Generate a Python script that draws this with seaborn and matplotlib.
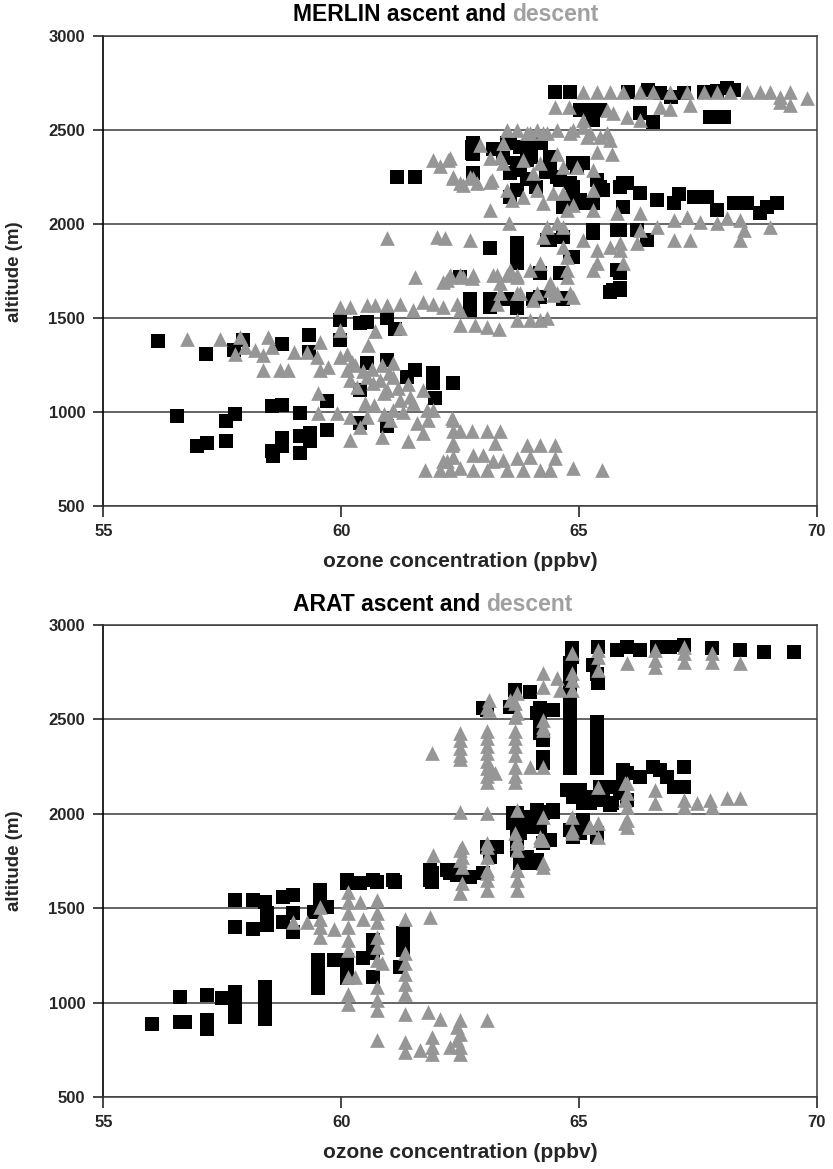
import pandas as pd
import seaborn as sns
import matplotlib.pyplot as plt

# %% data: (ozone ppbv, altitude m)
merlin_ascent = [
    (56.16, 1380), (57.16, 1310), (57.75, 1330), (57.94, 1383), (58.75, 1362), (59.33, 1411), (59.33, 1320),
    (59.98, 1490), (59.98, 1384), (60.40, 1472), (60.54, 1482), (60.96, 1500), (61.13, 1445), (60.54, 1261),
    (60.96, 1278), (61.38, 1189), (61.55, 1224), (61.94, 1206), (61.94, 1154), (61.97, 1074), (62.36, 1154),
    (59.70, 1058), (59.70, 907), (59.14, 996), (58.75, 1040), (58.54, 1031), (57.77, 989), (57.59, 953),
    (56.54, 980), (56.96, 820), (57.17, 838), (57.59, 846), (58.54, 793), (58.57, 767), (58.75, 820),
    (58.75, 864), (59.14, 873), (59.14, 785), (59.35, 890), (59.35, 846), (60.40, 1120), (60.40, 943),
    (60.96, 925),
    (61.17, 2252), (61.55, 2252), (62.75, 2412), (62.75, 2380), (62.78, 2270), (63.55, 2430), (63.69, 2323),
    (63.97, 2403), (64.20, 2430), (64.39, 2323), (64.60, 2234), (64.95, 2305), (65.09, 2323), (64.88, 2199),
    (65.02, 2128), (65.37, 2234), (65.51, 2181), (65.93, 2217), (65.93, 2093), (63.55, 2146), (63.69, 2181),
    (64.67, 2093), (65.30, 1969), (65.79, 1969), (63.13, 1872), (63.69, 1899), (63.69, 1837), (63.69, 1793),
    (64.32, 1916), (64.67, 1934), (64.81, 1827), (64.18, 1739), (64.60, 1739), (65.79, 1757), (65.86, 1650),
    (65.65, 1641), (62.50, 1721), (62.71, 1600), (63.13, 1600), (63.48, 1600), (64.04, 1600), (64.67, 1600),
    (64.50, 2704), (64.82, 2704), (65.03, 2606), (65.16, 2606), (66.03, 2704), (66.45, 2713), (66.94, 2677),
    (67.62, 2704), (68.11, 2722), (68.25, 2713), (66.56, 2545), (67.76, 2571), (68.04, 2571), (65.44, 2606),
    (65.30, 2553), (66.28, 2589), (66.70, 2700), (67.20, 2700), (67.90, 2710),
    (62.78, 2430), (62.78, 2376), (63.48, 2430), (63.76, 2412), (63.97, 2412), (64.18, 2430), (64.39, 2358),
    (63.90, 2341), (63.76, 2288), (63.55, 2270), (64.53, 2252), (64.82, 2217), (64.88, 2323), (65.44, 2199),
    (66.01, 2217), (66.28, 2164), (66.64, 2128), (66.99, 2111), (67.41, 2146), (67.69, 2146), (67.90, 2075),
    (68.25, 2111), (68.53, 2111), (68.95, 2093), (69.16, 2111), (64.74, 2128), (65.03, 2111), (65.30, 2111),
    (65.86, 2199), (65.86, 1969), (66.22, 1969), (65.30, 1952), (66.43, 1916), (64.39, 1916), (64.88, 1827),
    (65.72, 1650), (65.86, 1659), (65.86, 1739), (62.71, 1544), (63.13, 1562), (64.18, 1615), (63.69, 1553),
    (64.67, 1607), (63.20, 2400), (63.40, 2350), (64.00, 2360), (64.30, 2280), (63.90, 2240), (64.10, 2200),
    (68.80, 2060), (67.10, 2160),
]

merlin_descent = [
    (56.75, 1392), (57.45, 1392), (57.87, 1401), (57.77, 1312), (57.98, 1348), (58.19, 1330), (58.36, 1303),
    (58.47, 1401), (58.54, 1348), (58.36, 1224), (58.72, 1224), (58.89, 1224), (59.00, 1321), (59.28, 1321),
    (59.56, 1374), (59.49, 1294), (59.56, 1224), (59.73, 1242), (59.98, 1436), (59.98, 1560), (60.19, 1560),
    (60.54, 1569), (60.71, 1569), (60.96, 1569), (61.24, 1578), (61.52, 1543), (61.73, 1587), (61.94, 1578),
    (62.15, 1560), (62.43, 1578), (60.71, 1430), (61.24, 1447), (60.57, 1358), (59.98, 1294), (60.12, 1312),
    (60.22, 1268), (60.12, 1224), (60.19, 1170), (60.33, 1135), (60.54, 1189), (60.68, 1154), (60.82, 1170),
    (61.10, 1189), (60.96, 1118), (61.24, 1065), (61.52, 1047), (61.73, 1118), (61.80, 1012), (61.83, 959),
    (59.52, 1100), (59.52, 994), (59.91, 994), (60.19, 976), (60.19, 853), (60.40, 923), (60.54, 976),
    (60.85, 870), (61.03, 959), (61.41, 846), (61.59, 941), (61.73, 888), (61.76, 694), (62.08, 694),
    (62.22, 738), (62.36, 764), (62.36, 835), (62.36, 959), (61.10, 1261), (61.45, 1083), (61.94, 1012),
    (60.30, 1250), (60.45, 1220), (60.65, 1230), (60.85, 1250), (61.00, 1210), (60.90, 1100), (61.20, 1130),
    (61.40, 1150), (60.50, 1050), (60.70, 1040), (61.10, 1010), (61.30, 1000), (60.90, 990),
    (62.33, 970), (62.36, 899), (62.50, 899), (62.75, 899), (63.06, 899), (63.34, 899), (62.33, 828),
    (63.24, 837), (62.15, 738), (62.50, 703), (62.78, 774), (62.99, 774), (63.20, 738), (63.41, 747),
    (63.69, 756), (63.90, 828), (64.18, 828), (64.50, 828), (64.50, 756), (64.88, 703), (65.48, 694),
    (62.29, 694), (62.78, 694), (63.06, 694), (63.48, 694), (63.83, 694), (64.18, 694), (64.39, 694),
    (63.97, 764),
    (62.50, 1463), (62.82, 1463), (63.06, 1454), (63.31, 1445), (63.69, 1490), (63.97, 1490), (64.18, 1490),
    (64.32, 1500), (62.50, 1543), (63.27, 1578), (63.76, 1632), (64.04, 1596), (64.39, 1650), (64.46, 1623),
    (64.88, 1614), (64.74, 1721), (63.20, 1730), (62.50, 1730), (62.22, 1704), (65.30, 1757),
    (61.94, 2341), (62.25, 2341), (62.92, 2421), (62.36, 2244), (62.57, 2208), (62.78, 2244), (63.17, 2235),
    (63.13, 2075), (63.52, 2004), (60.96, 1925), (62.01, 1934), (62.19, 1925), (62.71, 1916), (61.55, 1721),
    (62.15, 1695), (62.29, 1721), (62.57, 1721), (62.75, 1712), (63.34, 1686), (63.48, 2181), (63.59, 2128),
    (63.83, 2146), (64.11, 2181), (64.25, 2111), (64.46, 2164), (64.67, 2164), (64.74, 2075), (64.88, 2102),
    (65.30, 2075), (65.30, 2181), (65.79, 2057), (63.41, 2323), (63.83, 2341), (64.18, 2323), (64.04, 2270),
    (64.53, 2376), (64.67, 2305), (64.95, 2305), (65.30, 2288), (65.37, 2385), (65.69, 2376), (63.41, 2430),
    (63.97, 2484), (64.25, 2484), (64.81, 2484), (65.23, 2484), (65.58, 2484), (64.32, 1987), (64.53, 2004),
    (64.67, 1987), (64.25, 1934), (64.67, 1880), (64.74, 1827), (64.74, 1757), (65.09, 1916), (65.37, 1863),
    (65.65, 1880), (65.86, 1863), (65.93, 1793), (65.37, 1793), (63.55, 1757), (63.69, 1721), (63.97, 1757),
    (64.18, 1793), (64.39, 1686), (64.11, 1632), (64.53, 1632), (64.81, 1632), (63.69, 1632), (63.34, 1632),
    (65.09, 2704), (65.37, 2704), (65.65, 2704), (65.93, 2704), (66.28, 2704), (66.56, 2704), (66.92, 2704),
    (67.27, 2704), (67.62, 2704), (67.90, 2704), (68.18, 2704), (68.53, 2704), (68.81, 2704), (69.02, 2704),
    (69.23, 2677), (69.44, 2704), (69.79, 2669), (69.44, 2633), (69.23, 2651), (64.50, 2624), (64.78, 2624),
    (66.70, 2624), (66.92, 2615), (67.33, 2633), (65.72, 2589), (66.01, 2571), (66.28, 2553), (65.58, 2606),
    (65.09, 2553), (63.48, 2500), (63.69, 2500), (63.90, 2483), (64.11, 2500), (64.32, 2483), (64.53, 2500),
    (64.88, 2500), (65.09, 2518), (65.16, 2465), (65.44, 2465), (65.65, 2447), (63.13, 2350), (63.34, 2358),
    (62.36, 2252), (62.50, 2217), (62.71, 2252), (62.85, 2217), (63.13, 2226), (62.08, 2308), (62.29, 2350),
    (66.28, 2057), (66.64, 1987), (66.99, 2022), (67.27, 2040), (67.55, 2013), (67.90, 2004), (68.11, 2031),
    (68.39, 2022), (68.46, 1969), (69.02, 1987), (66.99, 1916), (67.33, 1916), (68.39, 1916), (66.28, 1969),
    (65.86, 1899), (66.22, 1899), (62.29, 1730), (62.78, 1730), (63.27, 1730), (63.48, 1730), (63.69, 1730),
]

arat_ascent = [
    (64.85, 2877), (64.85, 2830), (65.41, 2885), (65.30, 2788), (65.41, 2691), (65.79, 2867), (66.01, 2885),
    (66.28, 2867), (66.64, 2885), (66.92, 2885), (67.20, 2894), (67.79, 2877), (68.39, 2867), (68.88, 2859),
    (69.51, 2859),
    (64.81, 2800), (64.81, 2750), (64.81, 2700), (64.81, 2650), (64.81, 2585), (64.81, 2514), (64.81, 2470),
    (64.81, 2426), (64.81, 2355), (64.81, 2285), (64.81, 2240), (65.37, 2740), (65.37, 2488), (65.37, 2461),
    (65.37, 2420), (65.37, 2391), (65.37, 2338), (65.37, 2276), (65.37, 2240),
    (63.66, 2656), (63.97, 2647), (64.18, 2558), (64.43, 2549), (64.18, 2497), (64.18, 2426), (64.25, 2390),
    (64.25, 2302), (64.25, 2267), (62.99, 2558), (63.06, 2550), (63.55, 2567), (64.11, 2532), (64.32, 2550),
    (64.46, 2550),
    (64.74, 2126), (64.88, 2090), (65.02, 2126), (65.23, 2055), (65.44, 2143), (65.65, 2143), (65.65, 2046),
    (66.01, 2214), (66.28, 2196), (66.56, 2249), (66.70, 2231), (66.85, 2196), (66.99, 2143), (67.20, 2249),
    (67.20, 2143), (65.86, 2108), (66.01, 2073), (65.93, 2231), (65.93, 2180), (65.09, 2055), (65.30, 2090),
    (65.51, 2073), (65.69, 2055),
    (63.69, 2002), (63.90, 1984), (64.18, 2011), (64.46, 2011), (63.76, 1931), (64.18, 1931), (64.39, 1860),
    (65.02, 1896), (65.37, 1896), (63.69, 1878), (63.97, 1966), (64.81, 1913), (64.88, 1878), (65.37, 1878),
    (65.09, 1966), (63.62, 2002), (63.62, 1949), (63.83, 1966), (63.97, 1931), (64.11, 2020), (64.25, 2002),
    (64.46, 2020), (63.76, 1896), (63.69, 1808), (63.90, 1772), (64.11, 1755), (64.25, 1843), (64.39, 1860),
    (63.06, 1825), (63.27, 1825), (63.13, 1772), (61.87, 1701), (62.22, 1701), (62.43, 1684), (62.71, 1666),
    (61.87, 1649), (63.83, 1737), (64.11, 1737), (60.12, 1649), (60.68, 1649), (61.10, 1649), (62.29, 1684),
    (62.99, 1684), (63.76, 1737), (64.04, 1737),
    (56.02, 889), (56.61, 1030), (56.61, 898), (56.72, 898), (57.17, 1039), (57.17, 907), (57.17, 862),
    (57.49, 1022), (57.77, 1057), (57.77, 1013), (57.77, 969), (57.77, 924), (58.40, 1083), (58.40, 1048),
    (58.40, 1004), (58.40, 960), (58.40, 915), (57.77, 1543), (57.77, 1401), (58.15, 1543), (58.15, 1392),
    (58.40, 1534), (58.44, 1472), (58.44, 1410), (58.78, 1560), (58.99, 1569), (58.78, 1428), (58.99, 1472),
    (58.99, 1375), (59.56, 1596), (59.56, 1543), (59.70, 1507), (59.42, 1481), (60.12, 1631), (60.40, 1631),
    (60.75, 1640), (61.13, 1640), (61.90, 1684), (61.90, 1640), (62.29, 1701), (62.43, 1675), (59.52, 1225),
    (59.52, 1172), (59.52, 1119), (59.52, 1075), (59.84, 1225), (60.12, 1225), (60.12, 1172), (60.12, 1128),
    (60.47, 1234), (60.68, 1331), (60.68, 1260), (60.68, 1137), (61.31, 1366), (61.31, 1313), (61.31, 1278),
    (61.24, 1190),
]

arat_descent = [
    (64.85, 2850), (64.85, 2744), (64.85, 2709), (65.41, 2867), (65.41, 2832), (65.41, 2762), (66.01, 2797),
    (66.60, 2867), (66.60, 2814), (66.60, 2779), (67.20, 2885), (67.20, 2850), (67.20, 2806), (67.79, 2850),
    (67.79, 2806), (68.39, 2797), (64.25, 2744), (64.25, 2673), (64.53, 2717), (64.60, 2656), (64.85, 2656),
    (63.10, 2603), (63.10, 2550), (63.55, 2603), (63.69, 2638), (63.69, 2532), (64.25, 2497), (64.25, 2461),
    (62.50, 2430), (62.50, 2390), (62.50, 2350), (62.50, 2310), (62.50, 2290),
    (63.06, 2440), (63.06, 2400), (63.06, 2360), (63.06, 2320), (63.06, 2280), (63.06, 2240), (63.06, 2200),
    (63.06, 2170), (63.17, 2220), (63.66, 2440), (63.66, 2400), (63.66, 2360), (63.66, 2310), (63.66, 2250),
    (63.66, 2200), (63.66, 2170), (63.97, 2249), (64.25, 2249),
    (65.41, 2143), (66.01, 2161), (66.01, 2108), (66.01, 2037), (66.60, 2126), (66.60, 2055), (67.20, 2073),
    (67.20, 2037), (67.48, 2055), (67.76, 2073), (67.79, 2037), (68.11, 2082), (68.39, 2082), (62.50, 2011),
    (63.06, 2002), (63.69, 2020), (64.25, 1984), (64.85, 1984), (64.85, 1896), (65.23, 1931), (65.41, 1949),
    (65.41, 1878), (66.01, 1966), (66.01, 1931), (62.50, 1808), (62.50, 1755), (63.06, 1825), (63.06, 1772),
    (63.69, 1860), (63.69, 1808), (64.18, 1860), (64.25, 1737),
    (61.90, 2320), (63.24, 2214), (63.66, 2585), (63.66, 2514), (63.06, 2567), (64.25, 2444), (64.85, 1913),
    (65.20, 1931), (65.97, 2161), (65.97, 2073), (65.97, 1949), (61.94, 1781), (62.54, 1825), (62.54, 1772),
    (62.54, 1719), (63.06, 1843), (63.06, 1701), (63.06, 1649), (63.66, 1896), (63.69, 1843), (63.69, 1701),
    (63.69, 1649), (64.18, 1878), (64.25, 1860), (62.54, 1631),
    (58.99, 1428), (59.28, 1428), (59.56, 1507), (59.56, 1445), (59.56, 1401), (59.56, 1348), (59.84, 1392),
    (60.15, 1587), (60.15, 1534), (60.15, 1472), (60.15, 1401), (60.15, 1331), (60.15, 1278), (60.40, 1534),
    (60.47, 1445), (60.75, 1543), (60.75, 1472), (60.75, 1428), (60.75, 1348), (60.75, 1295), (60.75, 1225),
    (60.85, 1207), (61.34, 1445), (61.34, 1260), (61.34, 1207), (61.34, 1154), (61.34, 1101), (61.34, 1048),
    (61.34, 942), (60.15, 1137), (60.15, 1048), (60.15, 995), (60.29, 1137), (60.75, 1083), (60.75, 1013),
    (60.75, 960), (60.75, 801), (61.87, 1455), (61.34, 792), (61.34, 739), (61.66, 748), (61.83, 951),
    (62.08, 915), (61.90, 818), (61.90, 765), (61.90, 730), (62.29, 765), (62.43, 871), (62.43, 801),
    (62.50, 907), (62.50, 836), (62.50, 765), (62.50, 730), (63.06, 907), (62.50, 1578), (63.06, 1684),
    (63.06, 1596), (63.69, 1701), (63.69, 1596), (64.25, 1719),
]

x_ticks = [55, 60, 65, 70]
y_ticks = [500, 1000, 1500, 2000, 2500, 3000]
titles = ["MERLIN", "ARAT"]

# %% style
sns.set_style("ticks")
plt.rcParams['font.family'] = ['Liberation Sans', 'DejaVu Sans']
plt.rcParams['font.weight'] = 'bold'

grey = "#969696"
frame = "#3c3c3c"

fig = plt.figure(figsize=(8.33, 11.69), dpi=100)
ax_top = fig.add_axes([0.124, 0.567, 0.8566, 0.402])
ax_bot = fig.add_axes([0.124, 0.0616, 0.8566, 0.4038])

panels = [
    (ax_top, merlin_ascent, merlin_descent, titles[0], 0.266, 1.032),
    (ax_bot, arat_ascent, arat_descent, titles[1], 0.266, 1.029),
]

for ax, up, down, name, tx, ty in panels:
    df_up = pd.DataFrame(up, columns=["ozone", "altitude"])
    df_down = pd.DataFrame(down, columns=["ozone", "altitude"])
    sns.scatterplot(data=df_up, x="ozone", y="altitude", marker="s", color="black",
                    s=100, linewidth=0, ax=ax, zorder=3)
    sns.scatterplot(data=df_down, x="ozone", y="altitude", marker="^", color=grey,
                    s=112, linewidth=0, ax=ax, zorder=4)

    ax.set_xlim(55, 70)
    ax.set_ylim(500, 3000)
    ax.set_xticks(x_ticks)
    ax.set_yticks(y_ticks)
    ax.yaxis.grid(True, color=frame, linewidth=1.1)
    ax.xaxis.grid(False)
    for side in ["top", "right", "bottom"]:
        ax.spines[side].set_color(frame)
        ax.spines[side].set_linewidth(1.1)
    ax.spines["left"].set_color("black")
    ax.spines["left"].set_linewidth(1.2)
    ax.tick_params(axis="x", direction="out", length=8, width=1.2, pad=5, labelsize=12)
    ax.tick_params(axis="y", direction="out", length=7, width=1.2, pad=6, labelsize=12)

    ax.set_xlabel("ozone concentration (ppbv)", fontsize=15, fontweight="bold")
    ax.set_ylabel("altitude (m)", fontsize=13.5, fontweight="bold")
    ax.xaxis.set_label_coords(0.5, -0.098)
    ax.yaxis.set_label_coords(-0.112, 0.5)

    t = ax.text(tx, ty, name + " ascent and", transform=ax.transAxes, fontsize=16.5,
                fontweight="bold", color="black", va="baseline", ha="left")
    ax.annotate("descent", xy=(1, 0), xycoords=t, xytext=(4.5, 0), textcoords="offset points",
                fontsize=16.5, fontweight="bold", color="#a0a0a0", va="bottom", ha="left")

plt.savefig("out.png", dpi=100)
